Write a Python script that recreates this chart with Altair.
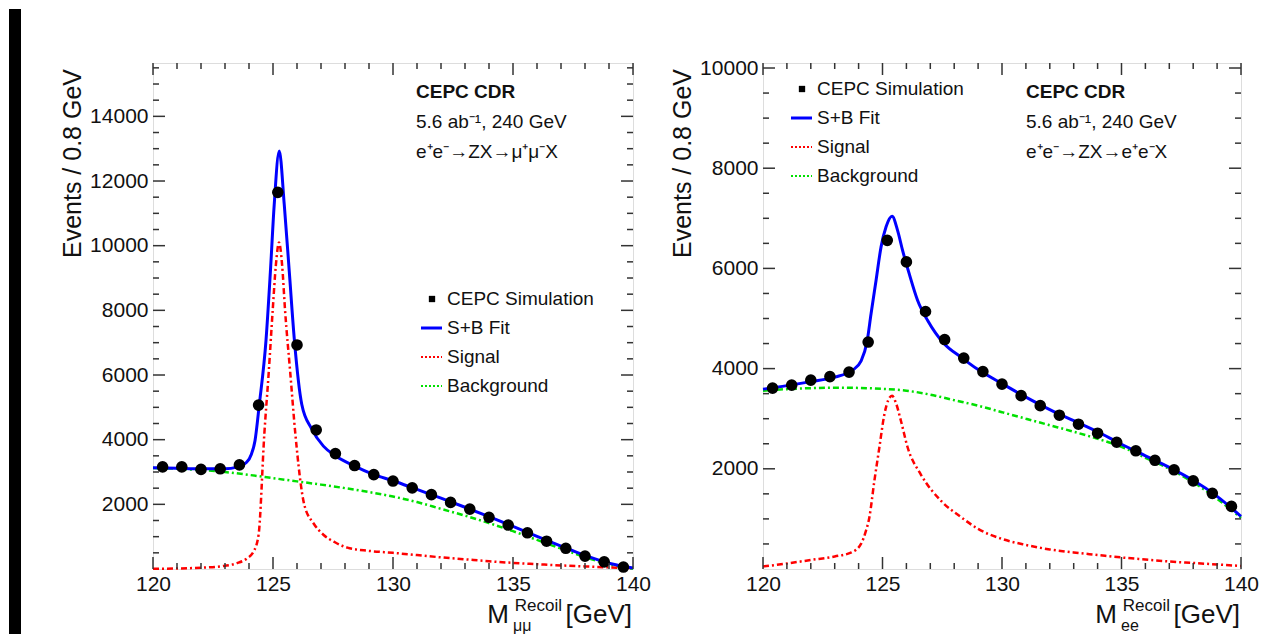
import altair as alt
import pandas as pd

FONT = "Liberation Sans"

# ---------------- data ----------------
bin_centers = [120.4, 121.2, 122.0, 122.8, 123.6, 124.4, 125.2, 126.0, 126.8, 127.6,
               128.4, 129.2, 130.0, 130.8, 131.6, 132.4, 133.2, 134.0, 134.8, 135.6,
               136.4, 137.2, 138.0, 138.8, 139.6]

# mu mu channel
mm_points = [3160, 3160, 3080, 3100, 3220, 5070, 11650, 6930, 4300, 3570,
             3200, 2920, 2720, 2510, 2300, 2060, 1850, 1600, 1360, 1120,
             860, 640, 400, 220, 60]
mm_fit_x = [120, 121, 122, 123, 123.5, 123.9, 124.1, 124.25, 124.43, 124.71, 124.89, 125.05,
            125.26, 125.47, 125.68, 125.89, 126.2, 126.6, 127.1, 127.6, 128.4, 129.2, 130,
            131, 132, 133, 134, 135, 136, 137, 138, 139, 140]
mm_fit_y = [3130, 3115, 3100, 3100, 3150, 3300, 3550, 3970, 5090, 7090, 9180, 11260,
            12930, 11260, 9180, 7090, 5090, 4350, 3800, 3500, 3180, 2920, 2730,
            2460, 2190, 1910, 1620, 1320, 1010, 710, 420, 180, 30]
mm_sig_x = [120, 121, 122, 123, 123.5, 123.9, 124.2, 124.4, 124.64, 124.82, 124.99, 125.12,
            125.25, 125.38, 125.5, 125.72, 125.93, 126.3, 126.7, 127.1, 127.6, 128.1, 129,
            130, 131, 132, 133, 134, 135, 136, 137, 138, 139, 140]
mm_sig_y = [5, 15, 40, 100, 180, 320, 550, 1060, 4190, 6060, 8030, 9400,
            10100, 9400, 8030, 6060, 4190, 2000, 1400, 1060, 820, 660, 560,
            500, 430, 360, 300, 240, 190, 150, 110, 80, 50, 30]
mm_bkg_x = [120, 121, 122, 123, 124, 125, 126, 127, 128, 129, 130, 131, 132, 133, 134,
            135, 136, 137, 138, 139, 140]
mm_bkg_y = [3125, 3100, 3060, 3000, 2910, 2810, 2710, 2610, 2500, 2380, 2240, 2070,
            1860, 1650, 1420, 1170, 900, 630, 370, 140, 5]

# e e channel
ee_points = [3610, 3670, 3770, 3840, 3930, 4530, 6560, 6130, 5140, 4580,
             4210, 3940, 3690, 3460, 3260, 3070, 2890, 2710, 2530, 2360,
             2170, 1980, 1760, 1510, 1250]
ee_fit_x = [120, 121, 122, 123, 123.75, 124.1, 124.35, 124.52, 124.73, 124.94, 125.15,
            125.4, 125.63, 125.84, 126.12, 126.47, 126.89, 127.59, 128.28, 129, 130,
            131, 132, 133, 134, 135, 136, 137, 138, 139, 140]
ee_fit_y = [3590, 3660, 3740, 3830, 3970, 4150, 4530, 5090, 5760, 6430, 6830,
            7040, 6760, 6360, 5890, 5360, 4960, 4490, 4230, 3980, 3700,
            3430, 3180, 2960, 2740, 2490, 2260, 2030, 1770, 1450, 1050]
ee_sig_x = [120, 121, 122, 123, 123.7, 124.1, 124.3, 124.45, 124.66, 124.87, 125.08, 125.25,
            125.4, 125.55, 125.77, 126.05, 126.6, 127.45, 128.3, 129, 130, 131, 132, 133,
            134, 135, 136, 137, 138, 139, 140]
ee_sig_y = [50, 110, 180, 250, 330, 500, 750, 1030, 1760, 2430, 3090, 3380,
            3460, 3330, 2960, 2430, 1890, 1360, 1030, 800, 600, 480, 390, 330,
            280, 230, 190, 150, 120, 90, 60]
ee_bkg_x = [120, 121, 122, 123, 124, 125, 126, 127, 128, 129, 130, 131, 132, 133, 134,
            135, 136, 137, 138, 139, 140]
ee_bkg_y = [3560, 3590, 3610, 3620, 3615, 3595, 3560, 3480, 3370, 3260, 3130, 3000,
            2870, 2740, 2600, 2440, 2220, 2000, 1730, 1400, 1020]

x_major = [120, 125, 130, 135, 140]
x_minor = [121, 122, 123, 124, 126, 127, 128, 129, 131, 132, 133, 134, 136, 137, 138, 139]
mm_y_major = [2000, 4000, 6000, 8000, 10000, 12000, 14000]
mm_y_minor = [500, 1000, 1500, 2500, 3000, 3500, 4500, 5000, 5500, 6500, 7000, 7500,
              8500, 9000, 9500, 10500, 11000, 11500, 12500, 13000, 13500, 14500, 15000, 15500]
ee_y_major = [2000, 4000, 6000, 8000, 10000]
ee_y_minor = [500, 1000, 1500, 2500, 3000, 3500, 4500, 5000, 5500, 6500, 7000, 7500,
              8500, 9000, 9500]

legend_labels = ["CEPC Simulation", "S+B Fit", "Signal", "Background"]
ann_title = "CEPC CDR"
ann_lumi = "5.6 ab\u207b\u00b9, 240 GeV"
mm_process = "e\u207ae\u207b\u2192ZX\u2192\u03bc\u207a\u03bc\u207bX"
ee_process = "e\u207ae\u207b\u2192ZX\u2192e\u207ae\u207bX"
y_title = "Events / 0.8  GeV"

# ---------------- styling ----------------
H = 506
FRAME = "#333333"
BLUE = "#0000ff"
RED = "#ff0000"
GREEN = "#00e000"
ONE = pd.DataFrame({"a": [0]})


def text_layer(txt, x, y, size, align="left", baseline="middle", weight="normal", angle=0):
    kw = dict(text=txt, font=FONT, fontSize=size, align=align, baseline=baseline,
              fontWeight=weight, color="#111111")
    if angle:
        kw["angle"] = angle
    return alt.Chart(ONE).mark_text(**kw).encode(x=alt.value(x), y=alt.value(y))


def panel(W, points, fit_x, fit_y, sig_x, sig_y, bkg_x, bkg_y, ymax, y_major, y_minor,
          leg_x, leg_y, sub, process, strip=False):
    xs = alt.Scale(domain=[120, 140], nice=False, zero=False)
    ys = alt.Scale(domain=[0, ymax], nice=False, zero=True)
    xaxis = alt.Axis(values=x_major, format="d", ticks=False, domain=False, grid=False,
                     labelFont=FONT, labelFontSize=21, labelColor="#111111", labelPadding=4,
                     labelFlush=False, labelOverlap=False, title=None)
    yaxis = alt.Axis(values=y_major, format="d", ticks=False, domain=False, grid=False,
                     labelFont=FONT, labelFontSize=21, labelColor="#111111", labelPadding=5,
                     labelFlush=False, labelOverlap=False, title=None)

    def X(f):
        return alt.X(f, type="quantitative", scale=xs, axis=xaxis)

    def Y(f):
        return alt.Y(f, type="quantitative", scale=ys, axis=yaxis)

    layers = []
    if strip:
        layers.append(alt.Chart(ONE).mark_rect(color="black").encode(
            x=alt.value(-144), x2=alt.value(-132), y=alt.value(-54), y2=alt.value(572)))

    bkg = pd.DataFrame({"x": bkg_x, "y": bkg_y})
    sig = pd.DataFrame({"x": sig_x, "y": sig_y})
    fit = pd.DataFrame({"x": fit_x, "y": fit_y})
    pts = pd.DataFrame({"x": bin_centers, "y": points})

    layers.append(alt.Chart(bkg).mark_line(color=GREEN, strokeWidth=2.5, strokeDash=[6, 3, 2, 3],
                                           interpolate="monotone").encode(x=X("x"), y=Y("y")))
    layers.append(alt.Chart(sig).mark_line(color=RED, strokeWidth=2.5, strokeDash=[6, 3, 2, 3],
                                           interpolate="monotone").encode(x=X("x"), y=Y("y")))
    layers.append(alt.Chart(fit).mark_line(color=BLUE, strokeWidth=3,
                                           interpolate="monotone").encode(x=X("x"), y=Y("y")))
    layers.append(alt.Chart(pts).mark_circle(color="black", size=135, opacity=1).encode(
        x=X("x"), y=Y("y")))

    # ROOT-style inward ticks on all four sides
    xmaj = pd.DataFrame({"v": x_major})
    xmin = pd.DataFrame({"v": x_minor})
    ymaj = pd.DataFrame({"v": y_major})
    ymin = pd.DataFrame({"v": y_minor})
    rs = dict(color=FRAME, strokeWidth=1.5)
    for df, L in ((xmaj, 12), (xmin, 6)):
        layers.append(alt.Chart(df).mark_rule(**rs).encode(
            x=X("v"), y=alt.value(H), y2=alt.value(H - L)))
        layers.append(alt.Chart(df).mark_rule(**rs).encode(
            x=X("v"), y=alt.value(0), y2=alt.value(L)))
    for df, L in ((ymaj, 12), (ymin, 6)):
        layers.append(alt.Chart(df).mark_rule(**rs).encode(
            y=Y("v"), x=alt.value(0), x2=alt.value(L)))
        layers.append(alt.Chart(df).mark_rule(**rs).encode(
            y=Y("v"), x=alt.value(W), x2=alt.value(W - L)))

    # annotations
    layers.append(text_layer(ann_title, 263, 29, 19, weight="bold"))
    layers.append(text_layer(ann_lumi, 263, 59, 19))
    layers.append(text_layer(process, 263, 89, 19))

    # legend
    gap = 29
    layers.append(alt.Chart(ONE).mark_square(color="black", size=40, opacity=1).encode(
        x=alt.value(leg_x + 11), y=alt.value(leg_y)))
    styles = [None, (BLUE, None, 3), (RED, [2, 2], 2), (GREEN, [2, 2], 2)]
    for i, lab in enumerate(legend_labels):
        yy = leg_y + i * gap
        layers.append(text_layer(lab, leg_x + 26, yy, 19))
        st = styles[i]
        if st is not None:
            kw = dict(color=st[0], strokeWidth=st[2])
            if st[1]:
                kw["strokeDash"] = st[1]
            layers.append(alt.Chart(ONE).mark_rule(**kw).encode(
                x=alt.value(leg_x), x2=alt.value(leg_x + 21), y=alt.value(yy)))

    # axis titles
    layers.append(text_layer(y_title, -72, 6, 25, align="right", baseline="alphabetic", angle=270))
    layers.append(text_layer("[GeV]", W - 1, 560, 26, align="right", baseline="alphabetic"))
    layers.append(text_layer("Recoil", W - 71, 548, 17, align="right", baseline="alphabetic"))
    layers.append(text_layer(sub, W - 120, 568, 16, align="left", baseline="alphabetic"))
    layers.append(text_layer("M", W - 124, 560, 26, align="right", baseline="alphabetic"))

    return alt.layer(*layers).properties(width=W, height=H)


left = panel(480, mm_points, mm_fit_x, mm_fit_y, mm_sig_x, mm_sig_y, mm_bkg_x, mm_bkg_y,
             15650, mm_y_major, mm_y_minor, 268, 236, "\u03bc\u03bc", mm_process, strip=True)
right = panel(478, ee_points, ee_fit_x, ee_fit_y, ee_sig_x, ee_sig_y, ee_bkg_x, ee_bkg_y,
              10100, ee_y_major, ee_y_minor, 28, 26, "ee", ee_process)

chart = alt.hconcat(left, right, spacing=130, bounds="flush").properties(
    padding=0
).configure_view(stroke=FRAME, strokeWidth=1.5).configure(background="white")

chart.save("out.html", embed_options={"renderer": "svg", "actions": False})
